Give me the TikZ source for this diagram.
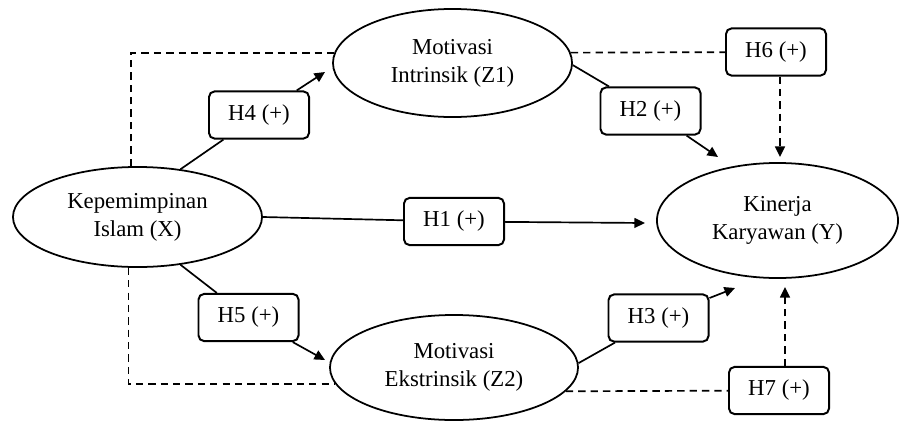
\documentclass[tikz,border=0pt]{standalone}
\usepackage{fontspec}
\setmainfont{Liberation Serif}
\usepackage{tikz}
\usetikzlibrary{
  arrows.meta,
  calc,
  positioning,
  shapes.geometric
}

\begin{document}
\begin{tikzpicture}[x=0.025cm, y=-0.025cm, font=\fontsize{16.2}{20}\selectfont,
  var/.style={ellipse, draw, line width=1.25pt, fill=white, inner sep=0pt, align=center},
  hyp/.style={rectangle, rounded corners=4pt, draw, line width=1.4pt, fill=white,
    minimum width=2.5cm, minimum height=1.18cm, inner sep=0pt},
  link/.style={line width=1.2pt},
  arr/.style={link, -{Triangle[length=7.5pt,width=7pt]}},
  dsh/.style={link, dash pattern=on 5.2pt off 3.6pt},
  darr/.style={dsh, -{Triangle[length=7.5pt,width=7pt]}}]
  \useasboundingbox (0,0) rectangle (899,421);
  % Variables
  \node[var, minimum width=6.225cm, minimum height=2.5cm] (x) at (137.5,217) {Kepemimpinan\\Islam (X)};
  \node[var, minimum width=5.975cm, minimum height=2.7cm] (z1) at (452.5,63) {Motivasi\\Intrinsik (Z1)};
  \node[var, minimum width=6.2cm, minimum height=2.625cm] (z2) at (454,367.5) {Motivasi\\Ekstrinsik (Z2)};
  \node[var, minimum width=6.025cm, minimum height=2.875cm] (y) at (777.5,220.5) {Kinerja\\Karyawan (Y)};
  % Hypotheses
  \node[hyp] (h4) at (259,115) {H4 (+)};
  \node[hyp] (h2) at (650.5,111) {H2 (+)};
  \node[hyp] (h6) at (776,52) {H6 (+)};
  \node[hyp] (h1) at (454,221.5) {H1 (+)};
  \node[hyp] (h5) at (248.5,317.5) {H5 (+)};
  \node[hyp] (h3) at (658.5,318) {H3 (+)};
  \node[hyp] (h7) at (779,390.5) {H7 (+)};
  % Arrow ends
  \coordinate (z1in) at (325,72);
  \coordinate (z2in) at (325,360);
  \coordinate (yin1) at (645,223);
  \coordinate (yin2) at (718,157);
  \coordinate (yin3) at (735,288);
  \coordinate (yin6) at (780,157);
  \coordinate (yin7) at (785,287);
  % Direct paths
  \draw[link] (x.48) -- (h4);
  \draw[arr] (h4) -- (z1in);
  \draw[link] (z1.-1) -- (h2);
  \draw[arr] (h2) -- (yin2);
  \draw[link] (x.east) -- (h1);
  \draw[arr] (h1) -- (yin1);
  \draw[link] (x.-48) -- (h5);
  \draw[arr] (h5) -- (z2in);
  \draw[link] (z2.2) -- (h3);
  \draw[arr] (h3) -- (yin3);
  % Mediation
  \draw[dsh] (x.97) |- (z1.175);
  \draw[dsh] (x.-100) |- (z2.188);
  \draw[dsh] (z1.5) -- (h6);
  \draw[darr] (h6.south -| yin6) -- (yin6);
  \draw[dsh] (z2.-12) -- (h7);
  \draw[darr] (h7.north -| yin7) -- (yin7);
\end{tikzpicture}
\end{document}
